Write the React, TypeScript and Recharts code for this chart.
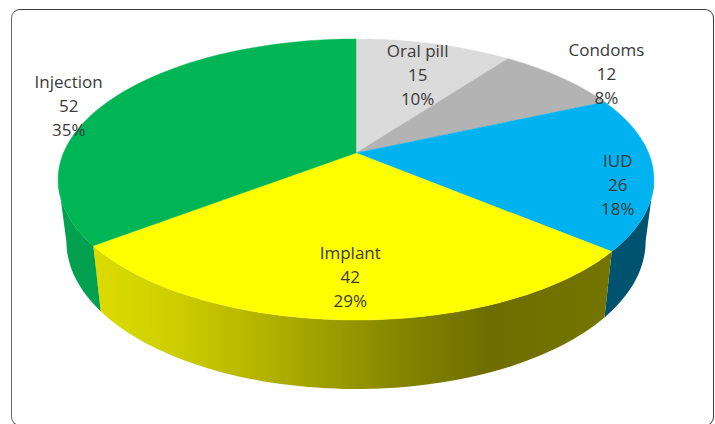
import React from "react";
import { PieChart, Pie } from "recharts";

const methods = ["Oral pill", "Condoms", "IUD", "Implant", "Injection"];
const counts = [15, 12, 26, 42, 52];

const topColors: Record<string, string> = {
  "Oral pill": "#dbdbdb",
  Condoms: "#b3b3b3",
  IUD: "#00b3f0",
  Implant: "#ffff00",
  Injection: "#00b556",
};
const wallColors: Record<string, string> = {
  "Oral pill": "#a0a0a0",
  Condoms: "#808080",
  IUD: "#00536f",
  Implant: "url(#implantWall)",
  Injection: "#00a04e",
};

// radial factor along the slice middle, then a small nudge
const labelSpots: Record<string, [number, number, number]> = {
  "Oral pill": [0.75, 3, 4],
  Condoms: [1.15, 15, 8],
  IUD: [0.88, 0, 15],
  Implant: [0.74, 0, 0],
  Injection: [1.15, -9, 17],
};

const data = methods.map((name, i) => ({ name, value: counts[i] }));

const CX = 356;
const CY = 153;
const RX = 292.6;
const RY = 135.5;
const TILT = 0.1886;
const RAD = Math.PI / 180;

// recharts angle -> clockwise from 12 o'clock
const toPhi = (angle: number) => 90 - angle;

// tilted disc, the near side is bigger so the centre sits above the ellipse centre
function rim(phi: number) {
  const s = Math.sin(phi * RAD);
  const c = Math.cos(phi * RAD);
  const w = 1 + TILT * c;
  return { x: (RX * s) / w, y: (-RY * c) / w };
}

function lowerRim(phi: number) {
  const p = rim(phi);
  const c = Math.cos(phi * RAD);
  return { x: CX + 0.972 * p.x, y: CY + p.y + 60 + 9 * Math.max(0, -c) };
}

function samples(a: number, b: number) {
  const n = Math.max(2, Math.ceil((b - a) / 1.5));
  const out: number[] = [];
  for (let i = 0; i <= n; i++) out.push(a + ((b - a) * i) / n);
  return out;
}

function TopSlice(props: any) {
  const a = toPhi(props.startAngle);
  const b = toPhi(props.endAngle);
  const pts = samples(a, b).map((phi) => {
    const p = rim(phi);
    return `L${(CX + p.x).toFixed(1)},${(CY + p.y).toFixed(1)}`;
  });
  const fill = topColors[props.name];
  return <path d={`M${CX},${CY}${pts.join("")}Z`} fill={fill} stroke={fill} strokeWidth={0.4} />;
}

function WallSlice(props: any) {
  const a = Math.max(toPhi(props.startAngle), 101);
  const b = Math.min(toPhi(props.endAngle), 259);
  if (b <= a) return <g />;
  const phis = samples(a, b);
  const upper = phis.map((phi) => {
    const p = rim(phi);
    return `${(CX + p.x).toFixed(1)},${(CY + p.y).toFixed(1)}`;
  });
  const lower = phis
    .slice()
    .reverse()
    .map((phi) => {
      const p = lowerRim(phi);
      return `${p.x.toFixed(1)},${p.y.toFixed(1)}`;
    });
  const fill = wallColors[props.name];
  return <path d={`M${upper.join("L")}L${lower.join("L")}Z`} fill={fill} />;
}

function SliceLabel(props: any) {
  const [f, dx, dy] = labelSpots[props.name];
  const p = rim(toPhi(props.midAngle));
  const x = CX + p.x * f + dx;
  const y = CY + p.y * f + dy;
  return (
    <text x={x} y={y} textAnchor="middle" fontFamily="'Open Sans', sans-serif" fontSize={17} fill="#3a3a3a">
      <tspan x={x} y={y - 18}>{props.name}</tspan>
      <tspan x={x} y={y + 6}>{props.value}</tspan>
      <tspan x={x} y={y + 30}>{Math.round(props.percent * 100)}%</tspan>
    </text>
  );
}

export default function App() {
  return (
    <div style={{ position: "fixed", left: 0, top: 0, width: 715, height: 424, background: "#fff", overflow: "hidden" }}>
      <div
        style={{
          position: "absolute",
          left: 11,
          top: 9,
          width: 703,
          height: 417,
          boxSizing: "border-box",
          border: "1.5px solid #3a3a3a",
          borderLeftColor: "#6a6a6a",
          borderRadius: 9,
        }}
      />
      <PieChart width={715} height={424} margin={{ top: 0, right: 0, bottom: 0, left: 0 }} style={{ position: "absolute" }}>
        <defs>
          <linearGradient id="implantWall" gradientUnits="userSpaceOnUse" x1={93} y1={0} x2={604} y2={0}>
            <stop offset="0" stopColor="#dcdc00" />
            <stop offset="0.15" stopColor="#cfcf00" />
            <stop offset="0.35" stopColor="#b0b000" />
            <stop offset="0.6" stopColor="#858500" />
            <stop offset="0.77" stopColor="#6e6e00" />
            <stop offset="1" stopColor="#747400" />
          </linearGradient>
        </defs>
        <Pie
          data={data}
          dataKey="value"
          nameKey="name"
          cx={CX}
          cy={CY}
          outerRadius={110}
          startAngle={90}
          endAngle={-270}
          shape={WallSlice}
          isAnimationActive={false}
        />
        <Pie
          data={data}
          dataKey="value"
          nameKey="name"
          cx={CX}
          cy={CY}
          outerRadius={110}
          startAngle={90}
          endAngle={-270}
          shape={TopSlice}
          label={SliceLabel}
          labelLine={false}
          isAnimationActive={false}
        />
      </PieChart>
    </div>
  );
}
